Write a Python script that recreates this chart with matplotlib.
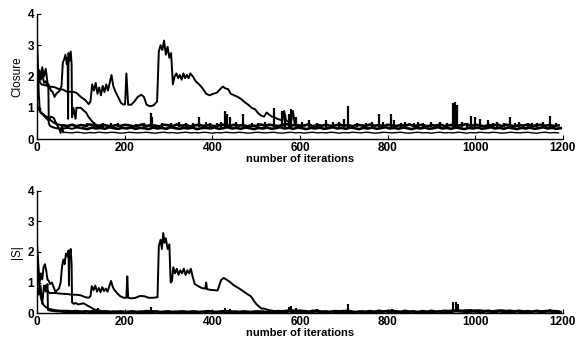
import numpy as np
import matplotlib.pyplot as plt

# ---- Closure (top panel) ----
# early traces as (iteration, value) pairs
closure_a = [(3, 1.9), (10, 1.75), (20, 1.72), (30, 1.68), (40, 1.66), (50, 1.6), (60, 1.58), (70, 1.5),
             (80, 1.52), (90, 1.48), (100, 1.35), (110, 1.25), (118, 1.12), (122, 1.2), (126, 1.75),
             (130, 1.55), (134, 1.8), (138, 1.45), (142, 1.65), (146, 1.4), (150, 1.7), (154, 1.5),
             (158, 1.75), (162, 1.55), (166, 1.8), (170, 2.05), (174, 1.7), (178, 1.55), (185, 1.35),
             (192, 1.15), (198, 1.1), (201, 1.12), (204, 2.1), (208, 1.1), (215, 1.1), (222, 1.2),
             (230, 1.35), (238, 1.42), (244, 1.35), (250, 1.1), (258, 1.05), (266, 1.08), (274, 1.2),
             (278, 2.8), (282, 3.0), (286, 2.85), (290, 3.15), (294, 2.7), (298, 2.95), (302, 2.6),
             (306, 2.75), (310, 1.75), (314, 2.0), (318, 2.1), (322, 1.95), (326, 2.05), (330, 1.9),
             (334, 2.1), (338, 1.95), (342, 2.05), (346, 1.95), (350, 2.1), (356, 2.0), (362, 1.85),
             (370, 1.75), (378, 1.62), (386, 1.45), (394, 1.4), (402, 1.45), (410, 1.48), (418, 1.6),
             (424, 1.68), (430, 1.62), (436, 1.6), (442, 1.45), (450, 1.4), (458, 1.35), (466, 1.28),
             (474, 1.18), (482, 1.1), (490, 1.0), (498, 0.95), (505, 0.82), (512, 0.75), (518, 0.72),
             (524, 0.85), (530, 0.78), (536, 0.72), (542, 0.7), (548, 0.65), (554, 0.62), (560, 0.6),
             (564, 0.9), (568, 0.6), (574, 0.55), (580, 0.58), (584, 0.9), (588, 0.5), (594, 0.45),
             (600, 0.44), (610, 0.43)]
closure_b = [(0, 1.6), (4, 2.2), (8, 1.9), (12, 2.3), (16, 2.0), (20, 2.25), (24, 1.8), (28, 1.7),
             (32, 1.55), (36, 1.5), (40, 1.35), (44, 1.45), (48, 1.5), (52, 1.55), (56, 1.7), (59, 2.45),
             (62, 2.55), (65, 2.7), (68, 2.4), (70, 2.6), (71, 0.65), (72, 2.75), (74, 2.5), (77, 2.8),
             (79, 2.4), (80, 0.7), (83, 1.0), (88, 0.65), (90, 1.0), (95, 1.0), (100, 1.0), (106, 0.92),
             (112, 0.85), (118, 0.7), (124, 0.6), (130, 0.5), (136, 0.45), (142, 0.42), (150, 0.4)]
closure_c = [(0, 3.2), (2, 2.5), (4, 1.5), (6, 1.0), (8, 0.88), (12, 0.82), (18, 0.75), (24, 0.7),
             (30, 0.62), (36, 0.55), (42, 0.5), (48, 0.47), (54, 0.45), (60, 0.44)]
closure_d = [(0, 1.1), (4, 0.95), (8, 0.85), (14, 0.78), (20, 0.68), (26, 0.6), (32, 0.72), (38, 0.68),
             (44, 0.5), (50, 0.35), (54, 0.2), (57, 0.45), (60, 0.22)]
closure_e = [(0, 2.4), (3, 1.8), (6, 2.2), (9, 1.9), (12, 2.1), (16, 1.8), (20, 1.85), (24, 1.7),
             (26, 1.65), (27, 0.5), (30, 0.42), (36, 0.38), (44, 0.35), (52, 0.33), (60, 0.34),
             (70, 0.36), (80, 0.33), (90, 0.37), (100, 0.35), (105, 0.35)]

# floor traces, one value every 10 iterations
floor1_start = 60
closure_floor1 = [0.44, 0.42, 0.46, 0.41, 0.45, 0.43, 0.47, 0.44, 0.42, 0.46,
                  0.43, 0.41, 0.45, 0.42, 0.46, 0.44, 0.41, 0.43, 0.47, 0.42,
                  0.45, 0.43, 0.41, 0.46, 0.44, 0.42, 0.47, 0.43, 0.45, 0.41,
                  0.44, 0.46, 0.42, 0.45, 0.43, 0.41, 0.47, 0.44, 0.42, 0.46,
                  0.43, 0.45, 0.41, 0.44, 0.42, 0.47, 0.43, 0.46, 0.44, 0.42,
                  0.45, 0.48, 0.43, 0.46, 0.42, 0.44, 0.47, 0.41, 0.45, 0.43,
                  0.46, 0.42, 0.44, 0.47, 0.43, 0.45, 0.41, 0.46, 0.44, 0.42,
                  0.47, 0.43, 0.45, 0.41, 0.46, 0.44, 0.42, 0.45, 0.43, 0.47,
                  0.42, 0.44, 0.46, 0.41, 0.45, 0.43, 0.47, 0.42, 0.44, 0.46,
                  0.43, 0.45, 0.48, 0.42, 0.46, 0.44, 0.41, 0.45, 0.43, 0.47,
                  0.42, 0.46, 0.44, 0.41, 0.45, 0.43, 0.47, 0.42, 0.44, 0.46,
                  0.43, 0.45, 0.42, 0.44]
floor2_start = 60
closure_floor2 = [0.22, 0.21, 0.20, 0.22, 0.21, 0.19, 0.21, 0.20, 0.22, 0.21,
                  0.20, 0.22, 0.21, 0.19, 0.20, 0.22, 0.21, 0.20, 0.21, 0.22,
                  0.20, 0.19, 0.21, 0.22, 0.20, 0.21, 0.19, 0.21, 0.22, 0.20,
                  0.21, 0.20, 0.22, 0.21, 0.19, 0.21, 0.20, 0.22, 0.21, 0.20,
                  0.22, 0.21, 0.19, 0.20, 0.22, 0.21, 0.20, 0.21, 0.22, 0.20,
                  0.19, 0.21, 0.22, 0.20, 0.21, 0.19, 0.21, 0.22, 0.20, 0.21,
                  0.20, 0.22, 0.21, 0.19, 0.21, 0.20, 0.22, 0.21, 0.20, 0.22,
                  0.21, 0.19, 0.20, 0.22, 0.21, 0.20, 0.21, 0.22, 0.20, 0.19,
                  0.21, 0.22, 0.20, 0.21, 0.19, 0.21, 0.22, 0.20, 0.21, 0.20,
                  0.22, 0.21, 0.19, 0.21, 0.20, 0.22, 0.21, 0.20, 0.22, 0.21,
                  0.19, 0.20, 0.22, 0.21, 0.20, 0.21, 0.22, 0.20, 0.19, 0.21,
                  0.22, 0.20, 0.21, 0.20]
floor3_start = 105
closure_floor3 = [0.35, 0.32, 0.37, 0.34, 0.36, 0.33, 0.38, 0.35, 0.33, 0.36,
                  0.34, 0.37, 0.33, 0.36, 0.35, 0.32, 0.37, 0.34, 0.36, 0.33,
                  0.38, 0.35, 0.33, 0.36, 0.34, 0.37, 0.32, 0.35, 0.36, 0.34,
                  0.37, 0.33, 0.35, 0.38, 0.34, 0.36, 0.33, 0.37, 0.35, 0.32,
                  0.36, 0.34, 0.37, 0.33, 0.35, 0.38, 0.34, 0.36, 0.33, 0.37,
                  0.35, 0.32, 0.36, 0.34, 0.37, 0.33, 0.35, 0.38, 0.34, 0.36,
                  0.33, 0.37, 0.35, 0.32, 0.36, 0.34, 0.37, 0.33, 0.35, 0.38,
                  0.34, 0.36, 0.33, 0.37, 0.35, 0.32, 0.36, 0.34, 0.37, 0.33,
                  0.35, 0.38, 0.34, 0.36, 0.33, 0.37, 0.35, 0.32, 0.36, 0.34,
                  0.37, 0.33, 0.35, 0.38, 0.34, 0.36, 0.33, 0.37, 0.35, 0.32,
                  0.36, 0.34, 0.37, 0.33, 0.35, 0.38, 0.34, 0.36, 0.33, 0.35]
# short excursions above the floor band: (iteration, peak value)
closure_spikes = [(115, 0.52), (130, 0.55), (150, 0.5), (170, 0.53), (185, 0.5), (225, 0.48), (245, 0.52),
                  (260, 0.85), (263, 0.7), (285, 0.52), (305, 0.5), (325, 0.55), (340, 0.5), (355, 0.53),
                  (370, 0.7), (385, 0.55), (395, 0.5), (410, 0.53), (420, 0.55), (428, 0.9), (433, 0.8),
                  (440, 0.7), (455, 0.55), (470, 0.8), (490, 0.5), (505, 0.53), (520, 0.55), (540, 1.0),
                  (560, 0.9), (565, 0.8), (575, 0.8), (580, 0.95), (590, 0.7), (605, 0.55), (620, 0.6),
                  (640, 0.5), (660, 0.6), (675, 0.55), (690, 0.55), (700, 0.65), (710, 1.05), (730, 0.5),
                  (750, 0.5), (765, 0.55), (780, 0.8), (790, 0.55), (808, 0.8), (815, 0.6), (830, 0.52),
                  (840, 0.55), (860, 0.5), (870, 0.55), (880, 0.52), (900, 0.55), (920, 0.55), (935, 0.5),
                  (950, 1.15), (953, 1.2), (958, 1.1), (970, 0.55), (980, 0.5), (990, 0.75), (1000, 0.7),
                  (1010, 0.65), (1030, 0.6), (1040, 0.52), (1050, 0.55), (1065, 0.5), (1080, 0.7),
                  (1090, 0.52), (1100, 0.55), (1120, 0.5), (1130, 0.53), (1140, 0.5), (1155, 0.55),
                  (1170, 0.75), (1185, 0.5)]

# ---- |S| (bottom panel) ----
s_a = [(20, 0.9), (25, 0.7), (30, 0.65), (40, 0.66), (50, 0.64), (60, 0.63), (70, 0.62), (80, 0.6),
       (90, 0.6), (100, 0.58), (110, 0.52), (118, 0.5), (122, 0.55), (125, 0.88), (129, 0.75),
       (133, 0.9), (137, 0.7), (141, 0.82), (145, 0.68), (149, 0.85), (153, 0.72), (157, 0.8),
       (161, 0.7), (165, 0.88), (169, 1.05), (173, 0.85), (177, 0.75), (183, 0.65), (190, 0.55),
       (198, 0.5), (204, 0.5), (206, 1.2), (208, 0.5), (215, 0.48), (225, 0.5), (235, 0.56),
       (245, 0.55), (255, 0.5), (265, 0.5), (275, 0.52), (278, 2.2), (282, 2.4), (285, 2.1),
       (288, 2.62), (291, 2.3), (294, 2.45), (298, 2.1), (302, 2.25), (305, 1.0), (308, 1.05),
       (311, 1.5), (315, 1.3), (319, 1.45), (323, 1.25), (327, 1.4), (331, 1.3), (335, 1.45),
       (339, 1.25), (343, 1.4), (347, 1.3), (351, 1.45), (355, 1.2), (360, 0.95), (368, 0.88),
       (376, 0.82), (384, 0.8), (386, 1.0), (388, 0.78), (396, 0.76), (404, 0.75), (412, 0.74),
       (416, 0.9), (420, 1.08), (426, 1.15), (432, 1.1), (440, 1.02), (448, 0.92), (456, 0.85),
       (464, 0.78), (472, 0.7), (480, 0.62), (488, 0.55), (494, 0.42), (500, 0.3), (506, 0.22),
       (512, 0.15), (520, 0.14), (528, 0.1), (536, 0.08), (545, 0.06), (555, 0.05)]
s_b = [(0, 2.3), (3, 1.6), (6, 1.0), (9, 1.3), (12, 1.1), (15, 1.5), (18, 1.6), (21, 1.4), (24, 1.1),
       (27, 1.05), (30, 0.95), (34, 1.0), (38, 0.85), (42, 0.7), (46, 0.75), (50, 0.8), (54, 1.0),
       (57, 1.5), (60, 1.75), (63, 1.6), (66, 1.95), (69, 1.85), (72, 2.05), (73, 0.9), (74, 1.9),
       (77, 2.1), (79, 1.6), (80, 0.35), (84, 0.3), (88, 0.33), (94, 0.28), (100, 0.3), (106, 0.32),
       (112, 0.27), (118, 0.22), (124, 0.18), (130, 0.12), (136, 0.1), (145, 0.07), (155, 0.05)]
s_c = [(0, 2.0), (3, 1.2), (6, 0.8), (9, 0.5), (12, 0.35), (16, 0.25), (20, 0.2), (25, 0.15),
       (30, 0.13), (40, 0.1), (50, 0.08), (60, 0.07)]
s_d = [(0, 1.0), (4, 0.6), (8, 0.9), (12, 0.3), (16, 0.9), (20, 0.7), (24, 0.95), (25, 0.1),
       (30, 0.08), (40, 0.06), (50, 0.05)]

s_floor1_start = 60
s_floor1 = [0.07, 0.07, 0.06, 0.07, 0.05, 0.06, 0.05, 0.07, 0.06, 0.05,
            0.06, 0.04, 0.05, 0.06, 0.04, 0.05, 0.06, 0.04, 0.05, 0.07,
            0.06, 0.06, 0.04, 0.05, 0.06, 0.04, 0.05, 0.06, 0.04, 0.05,
            0.06, 0.04, 0.05, 0.07, 0.05, 0.04, 0.06, 0.07, 0.06, 0.05,
            0.04, 0.06, 0.05, 0.04, 0.06, 0.05, 0.04, 0.06, 0.05, 0.07,
            0.06, 0.08, 0.09, 0.08, 0.08, 0.07, 0.05, 0.08, 0.08, 0.05,
            0.06, 0.04, 0.07, 0.06, 0.07, 0.08, 0.05, 0.04, 0.06, 0.05,
            0.07, 0.05, 0.08, 0.06, 0.07, 0.08, 0.06, 0.05, 0.08, 0.05,
            0.06, 0.04, 0.07, 0.05, 0.08, 0.05, 0.06, 0.08, 0.07, 0.09,
            0.09, 0.08, 0.09, 0.09, 0.08, 0.09, 0.07, 0.08, 0.06, 0.08,
            0.09, 0.07, 0.08, 0.06, 0.08, 0.06, 0.07, 0.05, 0.08, 0.06,
            0.07, 0.08, 0.07, 0.06]
s_floor2_start = 55
s_floor2 = [0.05, 0.03, 0.04, 0.02, 0.04, 0.03, 0.05, 0.03, 0.04, 0.02,
            0.04, 0.03, 0.05, 0.02, 0.04, 0.03, 0.04, 0.02, 0.05, 0.03,
            0.04, 0.03, 0.05, 0.02, 0.04, 0.03, 0.04, 0.02, 0.05, 0.03,
            0.04, 0.02, 0.04, 0.03, 0.05, 0.03, 0.04, 0.02, 0.04, 0.03,
            0.05, 0.02, 0.04, 0.03, 0.04, 0.03, 0.05, 0.02, 0.04, 0.03,
            0.04, 0.02, 0.05, 0.03, 0.04, 0.03, 0.04, 0.02, 0.05, 0.03,
            0.04, 0.03, 0.05, 0.02, 0.04, 0.03, 0.04, 0.02, 0.05, 0.03,
            0.04, 0.02, 0.04, 0.03, 0.05, 0.03, 0.04, 0.02, 0.04, 0.03,
            0.05, 0.02, 0.04, 0.03, 0.04, 0.03, 0.05, 0.02, 0.04, 0.03,
            0.06, 0.05, 0.04, 0.03, 0.05, 0.04, 0.03, 0.05, 0.04, 0.03,
            0.05, 0.03, 0.04, 0.03, 0.05, 0.03, 0.04, 0.03, 0.05, 0.04,
            0.03, 0.05, 0.04, 0.03, 0.04]
s_spikes = [(140, 0.15), (260, 0.2), (430, 0.15), (440, 0.12), (575, 0.2), (580, 0.22), (590, 0.18),
            (640, 0.12), (710, 0.28), (810, 0.12), (950, 0.35), (955, 0.36), (960, 0.3), (990, 0.12),
            (1060, 0.11), (1170, 0.12)]

xticks = [0, 200, 400, 600, 800, 1000, 1200]
yticks = [0, 1, 2, 3, 4]

plt.rcParams['font.family'] = ['Liberation Sans', 'DejaVu Sans']

fig = plt.figure(figsize=(5.87, 3.41), dpi=100)
ax1 = fig.add_axes([0.063, 0.592, 0.896, 0.367])
ax2 = fig.add_axes([0.063, 0.082, 0.896, 0.358])

LW = 1.4

def pairs(p):
    return [a for a, b in p], [b for a, b in p]

def floor(ax, start, vals, lw=1.9):
    xs = np.arange(start, start + 10 * len(vals), 10)
    ax.plot(xs, vals, color='black', lw=lw)

floor(ax1, floor1_start, closure_floor1)
floor(ax1, floor2_start, closure_floor2, lw=1.0)
floor(ax1, floor3_start, closure_floor3)
sx, sy = pairs(closure_spikes)
ax1.vlines(sx, 0.4, sy, color='black', lw=1.6)
for tr in [closure_a, closure_b, closure_c, closure_d, closure_e]:
    x, y = pairs(tr)
    ax1.plot(x, y, color='black', lw=LW)

floor(ax2, s_floor1_start, s_floor1, lw=1.6)
floor(ax2, s_floor2_start, s_floor2, lw=1.6)
sx, sy = pairs(s_spikes)
ax2.vlines(sx, 0.05, sy, color='black', lw=1.5)
for tr in [s_a, s_b, s_c, s_d]:
    x, y = pairs(tr)
    ax2.plot(x, y, color='black', lw=LW)

for ax, lab in [(ax1, 'Closure'), (ax2, '|S|')]:
    ax.set_xlim(0, 1200)
    ax.set_ylim(0, 4)
    ax.set_xticks(xticks)
    ax.set_yticks(yticks)
    ax.spines['top'].set_visible(False)
    ax.spines['right'].set_visible(False)
    ax.spines['left'].set_linewidth(1.0)
    ax.spines['bottom'].set_linewidth(1.0)
    ax.tick_params(direction='in', length=3, width=0.8, labelsize=8.5, pad=2)
    for t in ax.get_xticklabels() + ax.get_yticklabels():
        t.set_fontweight('bold')
    ax.set_xlabel('number of iterations', fontsize=8, fontweight='bold', labelpad=0)
    ax.set_ylabel(lab, fontsize=8.5, labelpad=3)

fig.savefig('out.png', dpi=100)
